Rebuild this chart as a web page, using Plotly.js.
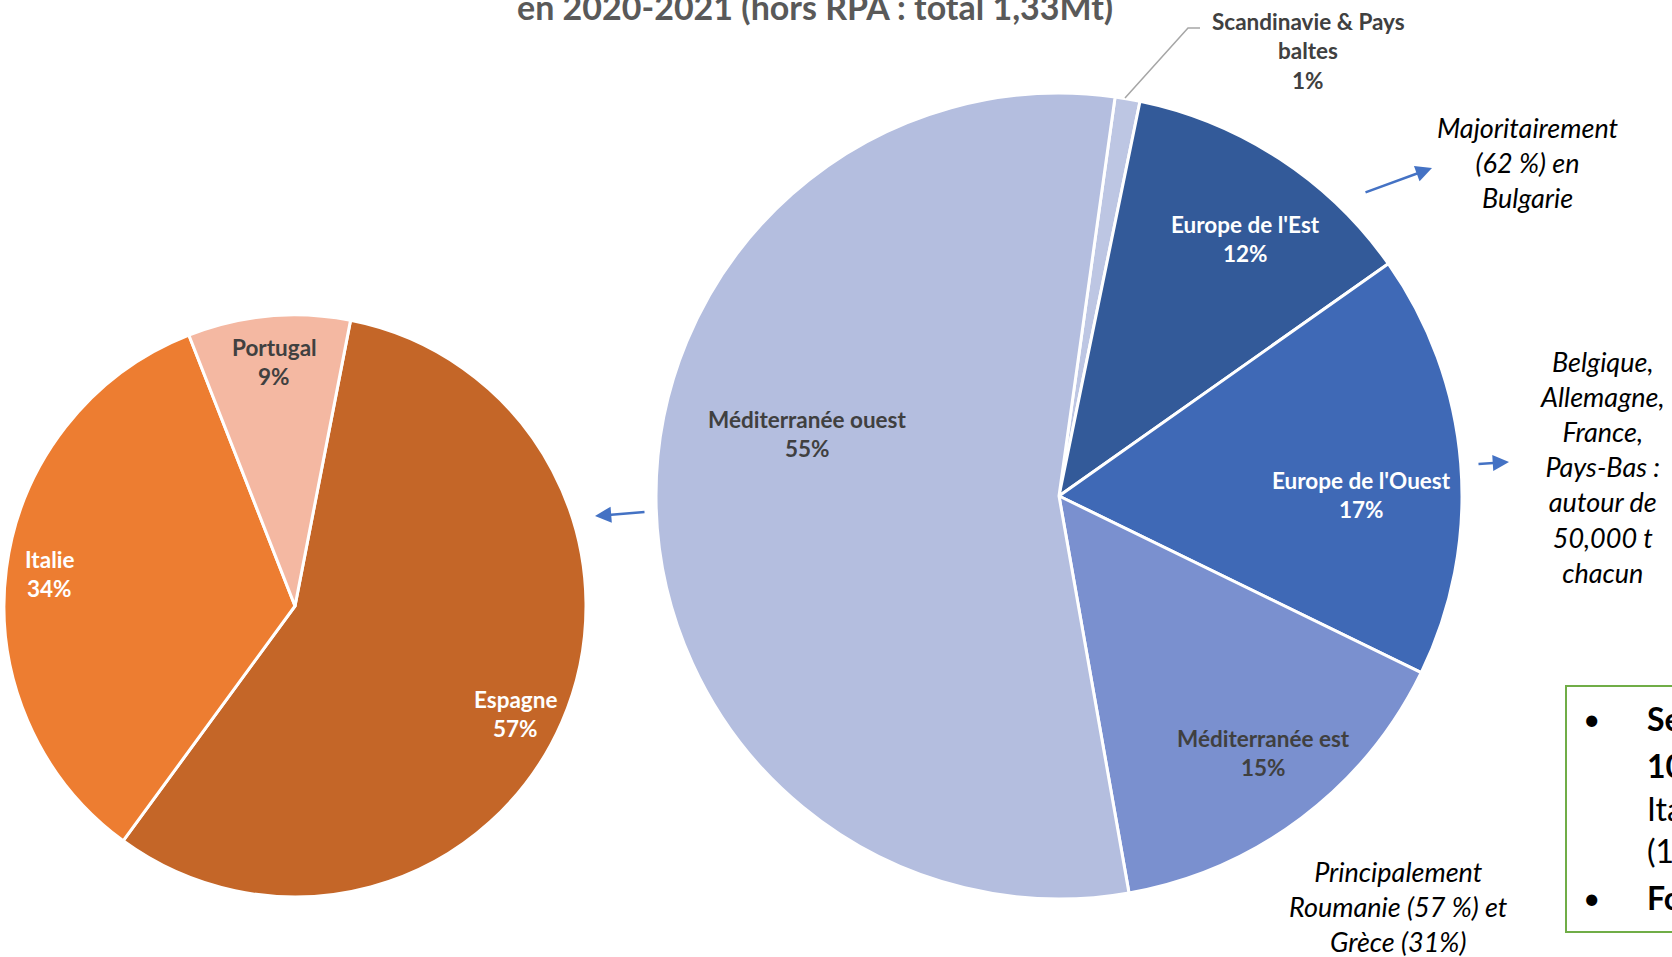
<!DOCTYPE html>
<html>
<head>
<meta charset="utf-8">
<script src="https://cdn.plot.ly/plotly-3.0.1.min.js"></script>
<style>
  html, body { margin: 0; padding: 0; background: #fff; }
  #chart { width: 1672px; height: 957px; }
</style>
</head>
<body>
<div id="chart"></div>
<script>
// Data
var big_labels = ["Scandinavie & Pays|baltes", "Europe de l'Est", "Europe de l'Ouest", "Méditerranée est", "Méditerranée ouest"];
var big_values = [1, 12, 17, 15, 55];
var small_labels = ["Espagne", "Italie", "Portugal"];
var small_values = [57, 34, 9];
var notes = [
    "Majoritairement<br>(62 %) en<br>Bulgarie",
    "Belgique,<br>Allemagne,<br>France,<br>Pays-Bas :<br>autour de<br>50,000 t<br>chacun",
    "Principalement<br>Roumanie (57 %) et<br>Grèce (31%)"
];
var title_text = "en 2020-2021 (hors RPA : total 1,33Mt)";

// Styles
var big_colors   = ["#BDC6E3", "#335A99", "#3F69B6", "#7A90CF", "#B4BEDF"];
var big_txtcol   = ["#404040", "#FFFFFF", "#FFFFFF", "#404040", "#404040"];
var small_colors = ["#C46628", "#ED7D31", "#F4B8A2"];
var small_txtcol = ["#FFFFFF", "#FFFFFF", "#404040"];

// Label centres in pixels (layout only)
var big_label_pos   = [[1308, 51], [1245, 239], [1361, 495], [1263, 753], [807, 434]];
var small_label_pos = [[515, 714], [49, 574], [274, 362]];
var note_pos = [[1528, 163], [1602, 467], [1398, 906]];

var W = 1672, H = 957;
var FONT = "Lato, 'Open Sans', sans-serif";

function px(x) { return x / W; }
function py(y) { return 1 - y / H; }

function sum(a) {
    var s = 0;
    for (var i = 0; i < a.length; i++) s += a[i];
    return s;
}

var annotations = [];

// Two/three line labels, one annotation per line so the spacing matches
function add_labels(labels, values, pos, colors) {
    var total = sum(values);
    for (var i = 0; i < labels.length; i++) {
        var lines = labels[i].split("|");
        lines.push(Math.round(values[i] / total * 100) + "%");
        var step = 29.5;
        var top = pos[i][1] - step * (lines.length - 1) / 2;
        for (var j = 0; j < lines.length; j++) {
            annotations.push({
                xref: "paper", yref: "paper",
                x: px(pos[i][0]), y: py(top + j * step),
                xanchor: "center", yanchor: "middle",
                text: "<b>" + lines[j] + "</b>",
                showarrow: false,
                font: {family: FONT, size: 22.5, color: colors[i]}
            });
        }
    }
}
add_labels(big_labels, big_values, big_label_pos, big_txtcol);
add_labels(small_labels, small_values, small_label_pos, small_txtcol);

// Italic notes
for (var i = 0; i < notes.length; i++) {
    annotations.push({
        xref: "paper", yref: "paper",
        x: px(note_pos[i][0]), y: py(note_pos[i][1]),
        xanchor: "center", yanchor: "middle",
        text: "<i>" + notes[i] + "</i>",
        showarrow: false,
        font: {family: FONT, size: 27, color: "#000"}
    });
}

// Title, cut by the top edge
annotations.push({
    xref: "paper", yref: "paper",
    x: px(815), y: py(6),
    xanchor: "center", yanchor: "middle",
    text: "<b>" + title_text + "</b>",
    showarrow: false,
    font: {family: FONT, size: 34, color: "#595959"}
});

// Blue arrows: head, tail offset
var arrows = [[1432, 168, -68, 25], [1509, 462, -32, 2], [595, 516, 51, -4]];
for (var i = 0; i < arrows.length; i++) {
    annotations.push({
        xref: "paper", yref: "paper",
        x: px(arrows[i][0]), y: py(arrows[i][1]),
        ax: arrows[i][2], ay: arrows[i][3],
        text: "", showarrow: true,
        arrowhead: 2, arrowsize: 1.3, arrowwidth: 2.5,
        arrowcolor: "#4472C4"
    });
}

// Box on the right, cut by the edge
var box_lines = [
    ["Se", true, 718], ["10", true, 765], ["Ita", false, 808],
    ["(1", false, 850], ["Fo", true, 897]
];
for (var i = 0; i < box_lines.length; i++) {
    var t = box_lines[i][1] ? "<b>" + box_lines[i][0] + "</b>" : box_lines[i][0];
    annotations.push({
        xref: "paper", yref: "paper",
        x: px(1645), y: py(box_lines[i][2]),
        xanchor: "left", yanchor: "middle",
        text: t, showarrow: false,
        font: {family: FONT, size: 32, color: "#000"}
    });
}
var bullets = [718, 897];
for (var i = 0; i < bullets.length; i++) {
    annotations.push({
        xref: "paper", yref: "paper",
        x: px(1591), y: py(bullets[i]),
        xanchor: "center", yanchor: "middle",
        text: "•", showarrow: false,
        font: {family: FONT, size: 30, color: "#000"}
    });
}

var shapes = [
    {
        type: "path", xref: "paper", yref: "paper",
        path: "M " + px(1125) + "," + py(98) + " L " + px(1188) + "," + py(28) +
              " L " + px(1200) + "," + py(28),
        line: {color: "#A6A6A6", width: 1.5}
    },
    {
        type: "rect", xref: "paper", yref: "paper",
        x0: px(1566), y0: py(686), x1: px(1720), y1: py(932),
        line: {color: "#70AD47", width: 2}
    }
];

var data = [
    {
        type: "pie",
        labels: big_labels.map(function (s) { return s.replace("|", " "); }),
        values: big_values,
        sort: false,
        direction: "clockwise",
        rotation: 8,
        marker: {colors: big_colors, line: {color: "#fff", width: 3}},
        textinfo: "none",
        domain: {x: [px(656), px(1462)], y: [py(899), py(93)]}
    },
    {
        type: "pie",
        labels: small_labels,
        values: small_values,
        sort: false,
        direction: "clockwise",
        rotation: 11,
        marker: {colors: small_colors, line: {color: "#fff", width: 3}},
        textinfo: "none",
        domain: {x: [px(4), px(586)], y: [py(897), py(315)]}
    }
];

var layout = {
    width: W,
    height: H,
    margin: {l: 0, r: 0, t: 0, b: 0},
    showlegend: false,
    paper_bgcolor: "#fff",
    annotations: annotations,
    shapes: shapes
};

Plotly.newPlot("chart", data, layout, {displayModeBar: false});
</script>
</body>
</html>
